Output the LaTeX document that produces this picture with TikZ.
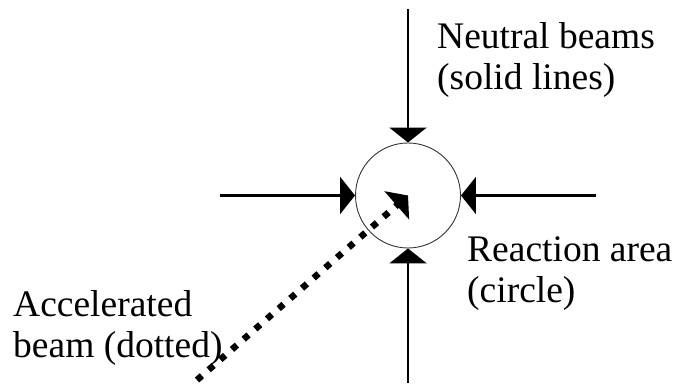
\documentclass[tikz,border=0pt]{standalone}
\usepackage{fontspec}
\setmainfont{Liberation Serif}
\usetikzlibrary{arrows.meta}

\tikzset{
  beam/.style={line width=2.6pt, -{Triangle[length=15pt, width=37pt]}},
  accbeam/.style={line width=6.5pt, dash pattern=on 6.5pt off 9pt,
    -{Triangle[length=15pt, width=37pt]}},
  label/.style={inner sep=0pt, anchor=north west, align=left,
    font=\fontsize{37.5}{41}\selectfont}
}

\begin{document}
\begin{tikzpicture}[x=1pt, y=-1pt]

  \useasboundingbox (0,0) rectangle (686,387);

  %% Reaction area
  \node[draw=black!80, line width=0.9pt, circle, minimum size=105pt,
    inner sep=0pt] (area) at (408,195.5) {};

  %% Free ends of the neutral beams
  \coordinate (topend) at (408,9);
  \coordinate (botend) at (408,383);
  \coordinate (leftend) at (220,195.5);
  \coordinate (rightend) at (596,195.5);

  %% Neutral beams
  \draw[beam] (topend) -- (area.north);
  \draw[beam] (botend) -- (area.south);
  \draw[beam] (leftend) -- (area.west);
  \draw[beam] (rightend) -- (area.east);

  %% Accelerated beam
  \coordinate (accend) at (197,380);
  \draw[accbeam] (accend) -- (area.center);

  %% Labels
  \node[label] (neutral) at (437,22) {Neutral beams\\(solid lines)};
  \node[label] (reaction) at (467,236) {Reaction area\\(circle)};
  \node[label] (accel) at (13,290) {Accelerated\\beam (dotted)};

\end{tikzpicture}
\end{document}
